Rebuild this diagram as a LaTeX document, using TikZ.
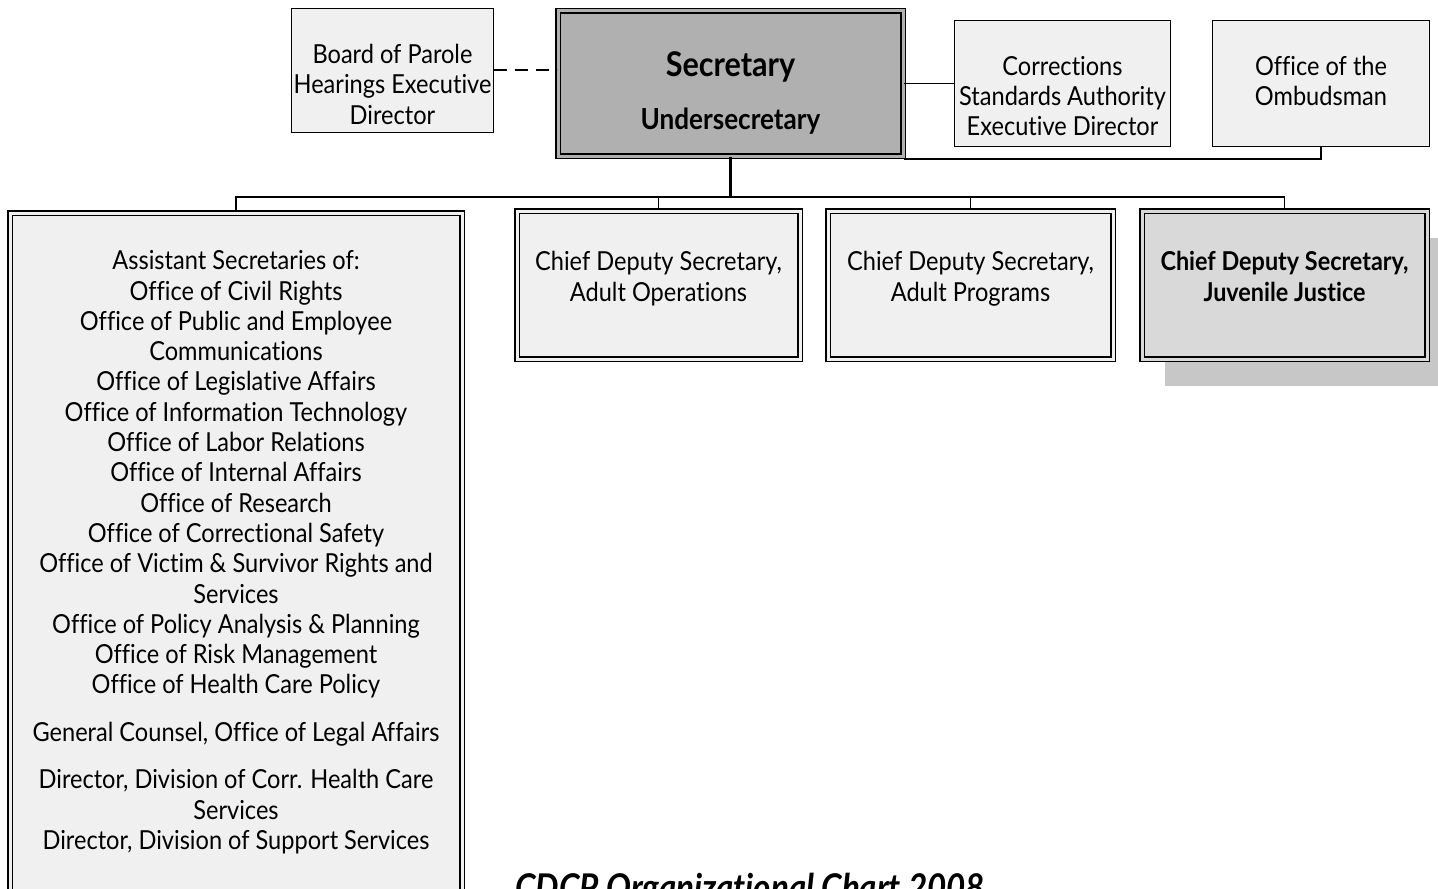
\documentclass[tikz,border=0pt]{standalone}
\usepackage{fontspec}
\setmainfont{Lato}[FakeStretch=0.9, Ligatures=NoCommon]
\usetikzlibrary{calc,positioning,shadows}
\definecolor{boxfill}{gray}{0.94}
\definecolor{secfill}{gray}{0.69}
\definecolor{jjfill}{gray}{0.85}
\definecolor{shadowgray}{gray}{0.78}
\tikzset{
unitbox/.style={
  draw=black,
  line width=0.75pt,
  fill=boxfill,
  inner sep=0pt,
  }
}
\tikzset{
dblbox/.style={
  draw=black,
  line width=0.75pt,
  double=boxfill,
  double distance=1.5pt,
  fill=boxfill,
  inner sep=0pt,
  }
}
\tikzset{
boxtext/.style={
  align=center,
  inner sep=0pt,
  font=\fontsize{13.1}{15.15}\selectfont,
  }
}
\tikzset{
orgline/.style={
  line width=0.8pt,
  }
}

\begin{document}
\begin{tikzpicture}[x=0.5pt,y=-0.5pt]
    \clip (0,0) rectangle (1438,888);

    % top row
    \node[unitbox, minimum width=101pt, minimum height=62pt] (parole) at (392.5,70.5) {};
    \node[dblbox, double=secfill, fill=secfill, minimum width=172.5pt, minimum height=72.5pt] (sec) at (730.5,83.5) {};
    \node[unitbox, minimum width=108pt, minimum height=63pt] (csa) at (1062.5,83.5) {};
    \node[unitbox, minimum width=108.5pt, minimum height=63pt] (omb) at (1321,83.5) {};

    \node[boxtext, below=18pt of parole.north] (parole_txt) {Board of Parole\\Hearings Executive\\Director};
    \node[boxtext, font=\fontsize{17}{19}\selectfont\bfseries, below=20.5pt of sec.north] (sec_txt) {Secretary};
    \node[boxtext, font=\fontsize{14.5}{16}\selectfont\bfseries, below=48.5pt of sec.north] (usec_txt) {Undersecretary};
    \node[boxtext, below=18pt of csa.north] (csa_txt) {Corrections\\Standards Authority\\Executive Director};
    \node[boxtext, below=18pt of omb.north] (omb_txt) {Office of the\\Ombudsman};

    % second row
    \node[dblbox, minimum width=226pt, minimum height=342pt] (asst) at (236,555) {};
    \node[dblbox, minimum width=141.5pt, minimum height=74pt] (cdadops) at (658.5,285) {};
    \node[dblbox, minimum width=142.5pt, minimum height=74pt] (cdadprog) at (970.5,285) {};
    \node[dblbox, double=jjfill, fill=jjfill, minimum width=142.5pt, minimum height=74pt,
          drop shadow={shadow xshift=11.5pt, shadow yshift=-13.5pt, fill=shadowgray, opacity=1}] (cdjuv) at (1284.5,285) {};

    \node[boxtext, below=19pt of asst.north] (asst_txt) {Assistant Secretaries of:\\
      Office of Civil Rights\\
      Office of Public and Employee\\
      Communications\\
      Office of Legislative Affairs\\
      Office of Information Technology\\
      Office of Labor Relations\\
      Office of Internal Affairs\\
      Office of Research\\
      Office of Correctional Safety\\
      Office of Victim \& Survivor Rights and\\
      Services\\
      Office of Policy Analysis \& Planning\\
      Office of Risk Management\\
      Office of Health Care Policy\\[8.8pt]
      General Counsel, Office of Legal Affairs\\[8.4pt]
      Director, Division of Corr. Health Care\\
      Services\\
      Director, Division of Support Services};
    \node[boxtext, below=20.5pt of cdadops.north] (cdadops_txt) {Chief Deputy Secretary,\\Adult Operations};
    \node[boxtext, below=20.5pt of cdadprog.north] (cdadprog_txt) {Chief Deputy Secretary,\\Adult Programs};
    \node[boxtext, font=\fontsize{13}{15.15}\selectfont\bfseries, below=20.5pt of cdjuv.north] (cdjuv_txt) {Chief Deputy Secretary,\\Juvenile Justice};

    % caption
    \node[anchor=north west, inner sep=0pt, font=\fontsize{18.4}{20}\selectfont\bfseries\itshape] (caption) at (515,873) {CDCP Organizational Chart 2008};

    % staff links
    \draw[orgline, line width=1pt, dash pattern=on 6.5pt off 4pt] (parole.east) -- (parole.east -| sec.west);
    \draw[orgline] (sec.east) -- (csa.west);
    \draw[orgline] (omb.south) |- ([yshift=-1.2pt]sec.south east);

    % line links
    \coordinate (bus) at (730.5,197);
    \draw[orgline, line width=1.5pt] (sec.south) -- (bus);
    \foreach \unit in {asst,cdadops,cdadprog,cdjuv}
      \draw[orgline] (bus) -| (\unit.north);
\end{tikzpicture}
\end{document}
